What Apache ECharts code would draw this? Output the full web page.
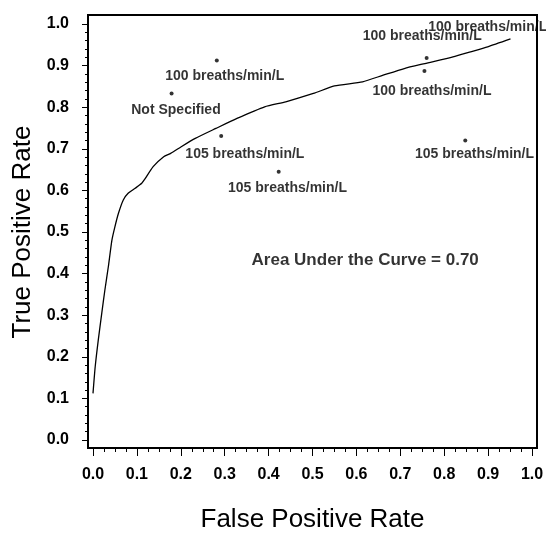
<!DOCTYPE html>
<html>
<head>
<meta charset="utf-8">
<script src="https://cdn.jsdelivr.net/npm/echarts@6/dist/echarts.min.js"></script>
<style>
html,body{margin:0;padding:0;background:#fff;}
#chart{width:546px;height:533px;}
</style>
</head>
<body>
<div id="chart"></div>
<script>
// ROC curve (False Positive Rate, True Positive Rate)
const rocFPR = [0.0, 0.005, 0.012, 0.02, 0.027, 0.035, 0.043, 0.05, 0.058, 0.069, 0.08, 0.096, 0.111, 0.118, 0.137, 0.161, 0.177, 0.201, 0.233, 0.28, 0.328, 0.391, 0.439, 0.502, 0.55, 0.614, 0.661, 0.709, 0.756, 0.82, 0.86, 0.899, 0.951];
const rocTPR = [0.112, 0.176, 0.24, 0.305, 0.36, 0.417, 0.48, 0.513, 0.545, 0.577, 0.593, 0.605, 0.617, 0.627, 0.657, 0.681, 0.689, 0.705, 0.725, 0.749, 0.773, 0.801, 0.813, 0.833, 0.851, 0.861, 0.877, 0.893, 0.905, 0.921, 0.933, 0.945, 0.964];

// Individual study points
const pointFPR = [0.282, 0.179, 0.292, 0.423, 0.76, 0.755, 0.848];
const pointTPR = [0.912, 0.833, 0.731, 0.645, 0.918, 0.887, 0.72];

// Point annotations (text and data-coordinate anchor)
const labelText = ['100 breaths/min/L', 'Not Specified', '105 breaths/min/L', '105 breaths/min/L', '100 breaths/min/L', '100 breaths/min/L', '105 breaths/min/L', '100 breaths/min/L'];
const labelFPR = [0.30, 0.189, 0.346, 0.443, 0.75, 0.772, 0.869, 0.899];
const labelTPR = [0.875, 0.792, 0.6875, 0.605, 0.97, 0.838, 0.6875, 0.993];

const aucText = ['Area Under the Curve = 0.70'];
const aucFPR = [0.62];
const aucTPR = [0.433];

const xTickLabels = ['0.0','0.1','0.2','0.3','0.4','0.5','0.6','0.7','0.8','0.9','1.0'];
const yTickLabels = ['0.0','0.1','0.2','0.3','0.4','0.5','0.6','0.7','0.8','0.9','1.0'];

const FONT = '"Liberation Sans", Arial, Helvetica, sans-serif';

const chart = echarts.init(document.getElementById('chart'), null, {renderer: 'canvas'});

const option = {
  animation: false,
  backgroundColor: '#fff',
  grid: [
    { // frame
      left: 88, top: 15, right: 9, bottom: 85,
      outerBoundsMode: 'none', containLabel: false,
      show: true, borderColor: '#000', borderWidth: 2, backgroundColor: 'transparent'
    },
    { // data area
      left: 93, top: 24, right: 14, bottom: 93,
      outerBoundsMode: 'none', containLabel: false
    }
  ],
  xAxis: [
    { gridIndex: 0, type: 'value', min: 0, max: 1, show: false },
    {
      gridIndex: 1, type: 'value', min: 0, max: 1, interval: 0.1,
      position: 'bottom', offset: 8,
      name: 'False Positive Rate', nameLocation: 'middle', nameGap: 59,
      nameTextStyle: { fontFamily: FONT, fontSize: 26, color: '#000' },
      axisLine: { show: true, onZero: false, lineStyle: { color: '#000', width: 2 } },
      axisTick: { show: true, inside: false, length: 8, lineStyle: { color: '#000', width: 1 } },
      minorTick: { show: true, splitNumber: 4, length: 4, lineStyle: { color: '#000', width: 1 } },
      splitLine: { show: false },
      axisLabel: {
        margin: 19, color: '#000', fontFamily: FONT, fontSize: 16, fontWeight: 'bold',
        formatter: v => xTickLabels[Math.round(v * 10)]
      }
    }
  ],
  yAxis: [
    { gridIndex: 0, type: 'value', min: 0, max: 1, show: false },
    {
      gridIndex: 1, type: 'value', min: 0, max: 1, interval: 0.1,
      position: 'left', offset: 5,
      name: 'True Positive Rate', nameLocation: 'middle', nameGap: 52,
      nameTextStyle: { fontFamily: FONT, fontSize: 26, color: '#000' },
      axisLine: { show: true, onZero: false, lineStyle: { color: '#000', width: 2 } },
      axisTick: { show: true, inside: false, length: 6, lineStyle: { color: '#000', width: 1 } },
      minorTick: { show: true, splitNumber: 5, length: 3, lineStyle: { color: '#000', width: 1 } },
      splitLine: { show: false },
      axisLabel: {
        margin: 19, color: '#000', fontFamily: FONT, fontSize: 16, fontWeight: 'bold',
        formatter: v => yTickLabels[Math.round(v * 10)]
      }
    }
  ],
  series: [
    {
      type: 'line', xAxisIndex: 1, yAxisIndex: 1,
      data: rocFPR.map((x, i) => [x, rocTPR[i]]),
      showSymbol: false, smooth: 0.2, silent: true,
      lineStyle: { color: '#000', width: 1.3 }
    },
    {
      type: 'scatter', xAxisIndex: 1, yAxisIndex: 1,
      data: pointFPR.map((x, i) => [x, pointTPR[i]]),
      symbol: 'circle', symbolSize: 4, silent: true,
      itemStyle: { color: '#000' }
    },
    {
      type: 'scatter', xAxisIndex: 1, yAxisIndex: 1,
      data: labelFPR.map((x, i) => ({ name: labelText[i], value: [x, labelTPR[i]] })),
      symbolSize: 1, silent: true, clip: false,
      itemStyle: { color: 'rgba(0,0,0,0)' },
      label: {
        show: true, position: 'inside', formatter: p => p.name,
        color: '#000', fontFamily: FONT, fontSize: 14, fontWeight: 'bold'
      }
    },
    {
      type: 'scatter', xAxisIndex: 1, yAxisIndex: 1,
      data: aucFPR.map((x, i) => ({ name: aucText[i], value: [x, aucTPR[i]] })),
      symbolSize: 1, silent: true,
      itemStyle: { color: 'rgba(0,0,0,0)' },
      label: {
        show: true, position: 'inside', formatter: p => p.name,
        color: '#000', fontFamily: FONT, fontSize: 17, fontWeight: 'bold'
      }
    }
  ]
};
chart.setOption(option);
</script>
</body>
</html>
